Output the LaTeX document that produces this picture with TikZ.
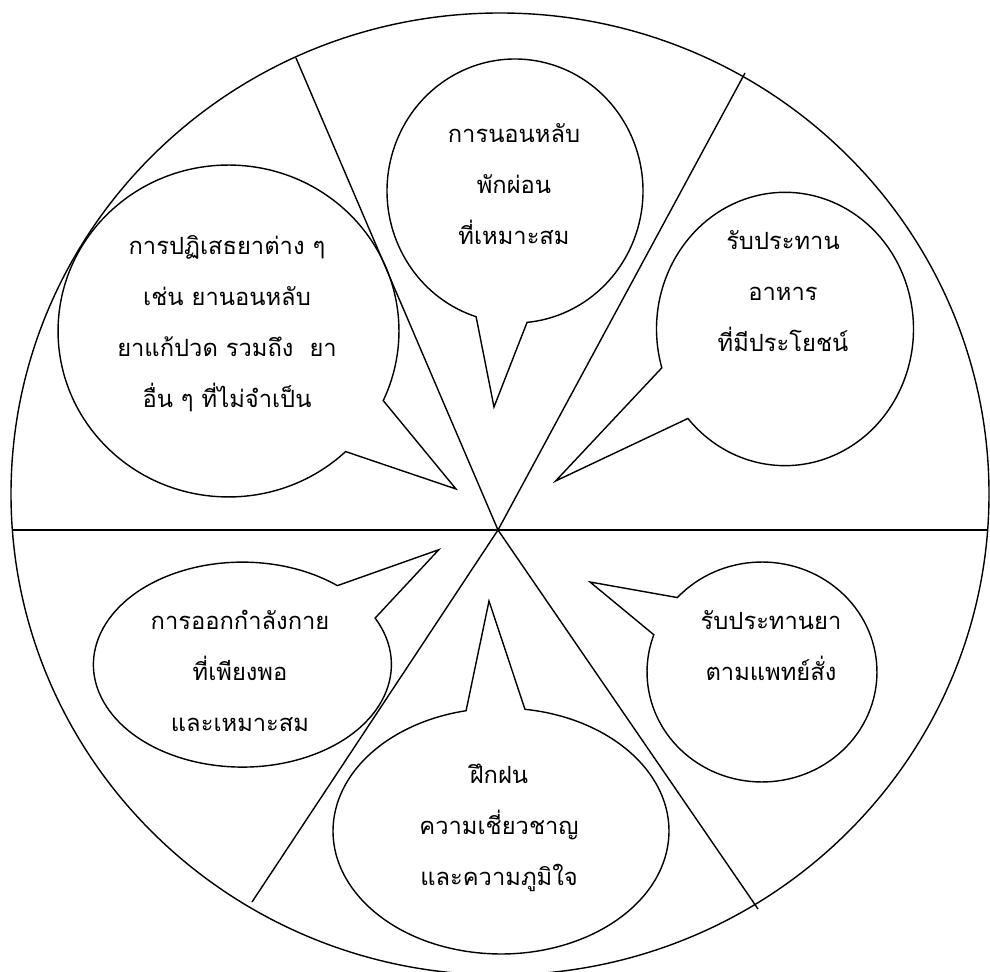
\documentclass[tikz,border=0pt]{standalone}
\usepackage{fontspec}
\newfontfamily\thaifont[Script=Thai]{Loma}
\usetikzlibrary{shapes.geometric}

\begin{document}
\begin{tikzpicture}[x=0.02cm, y=-0.02cm, line width=0.8pt,
    bubble/.style={draw, line join=miter},
    caption/.style={align=center, font=\thaifont\fontsize{13.5pt}{29pt}\selectfont}]
  \useasboundingbox (0,0) rectangle (990,972);

  % wheel and spokes
  \draw (500,494) ellipse [x radius=489, y radius=481];
  \coordinate (hub) at (498,530);
  \coordinate (west) at (12,530);
  \coordinate (east) at (988,530);
  \coordinate (nw) at (296,58);
  \coordinate (ne) at (745,73);
  \coordinate (sw) at (252,902);
  \coordinate (se) at (758,909);
  \draw (west) -- (east);
  \foreach \rim in {nw,ne,sw,se}
    \draw (hub) -- (\rim);

  % top bubble
  \coordinate (sleep tip) at (494,407);
  \draw[bubble] (515,191) ++(-107.7:2.56cm and 2.64cm)
    arc[start angle=-107.7, end angle=-444.6, x radius=2.56cm, y radius=2.64cm]
    -- (sleep tip) -- cycle;
  \node[caption] (sleep) at (514,184) {การนอนหลับ\\พักผ่อน\\ที่เหมาะสม};

  % upper left bubble
  \coordinate (refuse tip) at (456,489);
  \draw[bubble] (228.5,331) ++(-46.6:3.41cm and 3.32cm)
    arc[start angle=-46.6, end angle=-384.8, x radius=3.41cm, y radius=3.32cm]
    -- (refuse tip) -- cycle;
  \node[caption] (refuse) at (227,324) {การปฏิเสธยาต่าง ๆ\\เช่น ยานอนหลับ\\ยาแก้ปวด รวมถึง\ \ ยา\\อื่น ๆ ที่ไม่จำเป็น};

  % upper right bubble
  \coordinate (food tip) at (555.6,481);
  \draw[bubble] (785,329) ++(-163.5:2.57cm and 2.734cm)
    arc[start angle=-163.5, end angle=-499.1, x radius=2.57cm, y radius=2.734cm]
    -- (food tip) -- cycle;
  \node[caption] (food) at (783,291) {รับประทาน\\อาหาร\\ที่มีประโยชน์};

  % lower left bubble
  \coordinate (exercise tip) at (438.8,549.7);
  \draw[bubble] (242.4,664.6) ++(27:2.98cm and 2.05cm)
    arc[start angle=27, end angle=-309.6, x radius=2.98cm, y radius=2.05cm]
    -- (exercise tip) -- cycle;
  \node[caption] (exercise) at (240,671) {การออกกำลังกาย\\ที่เพียงพอ\\และเหมาะสม};

  % lower right bubble
  \coordinate (medicine tip) at (590,582);
  \draw[bubble] (762,672) ++(-222.6:2.3cm and 2.2cm)
    arc[start angle=-222.6, end angle=-559.8, x radius=2.3cm, y radius=2.2cm]
    -- (medicine tip) -- cycle;
  \node[caption] (medicine) at (771,646) {รับประทานยา\\ตามแพทย์สั่ง};

  % bottom bubble
  \coordinate (skill tip) at (489,601);
  \draw[bubble] (501,831) ++(-278.2:3.36cm and 2.46cm)
    arc[start angle=-278.2, end angle=-618, x radius=3.36cm, y radius=2.46cm]
    -- (skill tip) -- cycle;
  \node[caption] (skill) at (499,828) {ฝึกฝน\\ความเชี่ยวชาญ\\และความภูมิใจ};
\end{tikzpicture}
\end{document}
